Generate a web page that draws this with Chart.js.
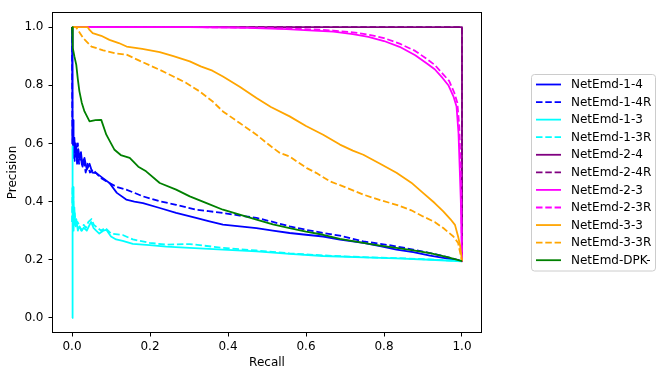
<!DOCTYPE html>
<html>
<head>
<meta charset="utf-8">
<script src="https://cdn.jsdelivr.net/npm/chart.js@4/dist/chart.umd.min.js"></script>
<style>
html,body{margin:0;padding:0;background:#fff;}
canvas{display:block;}
</style>
</head>
<body>
<canvas id="c" width="665" height="378"></canvas>
<script>
// ---- data (recall, precision) ----
const seriesNames = ["NetEmd-1-4","NetEmd-1-4R","NetEmd-1-3","NetEmd-1-3R","NetEmd-2-4","NetEmd-2-4R","NetEmd-2-3","NetEmd-2-3R","NetEmd-3-3","NetEmd-3-3R","NetEmd-DPK-"];
const seriesColors = ["#0000ff","#0000ff","#00ffff","#00ffff","#800080","#800080","#ff00ff","#ff00ff","#ffa500","#ffa500","#008000"];
const seriesDashed = [false,true,false,true,false,true,false,true,false,true,false];
const xTicks = [0.0,0.2,0.4,0.6,0.8,1.0];
const yTicks = [0.0,0.2,0.4,0.6,0.8,1.0];

const r14 = [0,0.001,0.002,0.003,0.004,0.006,0.008,0.01,0.013,0.016,0.019,0.023,0.027,0.032,0.038,0.045,0.052,0.062,0.075,0.096,0.115,0.139,0.16,0.182,0.225,0.267,0.318,0.35,0.387,0.43,0.473,0.515,0.558,0.6,0.644,0.687,0.747,0.79,0.832,0.875,0.918,0.96,1.0];
const p14 = [1.0,0.72,0.6,0.68,0.55,0.62,0.57,0.6,0.53,0.58,0.55,0.57,0.52,0.55,0.51,0.53,0.5,0.498,0.485,0.464,0.43,0.407,0.4,0.395,0.378,0.361,0.344,0.333,0.321,0.315,0.309,0.3,0.292,0.286,0.28,0.269,0.258,0.247,0.235,0.226,0.214,0.205,0.195];

const r14R = [0,0.001,0.002,0.003,0.005,0.007,0.009,0.012,0.015,0.018,0.022,0.026,0.03,0.035,0.04,0.046,0.054,0.062,0.075,0.096,0.115,0.139,0.16,0.182,0.225,0.267,0.318,0.35,0.387,0.43,0.473,0.515,0.558,0.6,0.644,0.687,0.747,0.79,0.832,0.875,0.918,0.96,1.0];
const p14R = [1.0,0.6,0.66,0.56,0.6,0.54,0.58,0.55,0.6,0.53,0.56,0.52,0.55,0.5,0.53,0.5,0.51,0.498,0.48,0.464,0.45,0.441,0.43,0.418,0.401,0.389,0.372,0.367,0.361,0.352,0.344,0.33,0.315,0.303,0.292,0.283,0.263,0.255,0.246,0.235,0.223,0.21,0.195];

const r13 = [0,0.001,0.002,0.003,0.004,0.006,0.008,0.011,0.015,0.019,0.025,0.03,0.038,0.045,0.049,0.055,0.062,0.07,0.08,0.088,0.1,0.113,0.13,0.156,0.199,0.242,0.302,0.387,0.473,0.558,0.644,0.747,0.832,0.918,1.0];
const p13 = [0,0.59,0.35,0.45,0.3,0.38,0.32,0.34,0.3,0.315,0.3,0.31,0.3,0.32,0.33,0.31,0.3,0.29,0.3,0.303,0.28,0.27,0.265,0.255,0.25,0.245,0.241,0.235,0.229,0.22,0.213,0.208,0.205,0.2,0.195];

const r13R = [0,0.001,0.002,0.003,0.005,0.007,0.01,0.014,0.018,0.024,0.03,0.036,0.042,0.05,0.056,0.065,0.075,0.085,0.1,0.13,0.156,0.199,0.242,0.302,0.387,0.473,0.558,0.644,0.747,0.832,0.918,1.0];
const p13R = [0.33,0.45,0.36,0.42,0.33,0.36,0.31,0.33,0.32,0.3,0.32,0.31,0.33,0.34,0.32,0.31,0.3,0.31,0.29,0.285,0.27,0.258,0.252,0.254,0.241,0.232,0.222,0.215,0.209,0.206,0.201,0.195];

const r24 = [0,1.0,1.0];
const p24 = [1.0,1.0,0.195];
const r24R = [0,1.0,1.0];
const p24R = [1.0,1.0,0.195];

const r23 = [0,0.3,0.45,0.55,0.62,0.67,0.72,0.76,0.8,0.84,0.88,0.91,0.93,0.95,0.965,0.978,0.986,0.991,0.994,0.997,1.0];
const p23 = [1.0,1.0,0.997,0.993,0.988,0.984,0.976,0.966,0.952,0.932,0.903,0.875,0.855,0.825,0.8,0.762,0.727,0.636,0.52,0.4,0.195];
const r23R = [0,0.3,0.45,0.55,0.62,0.67,0.72,0.76,0.8,0.84,0.88,0.91,0.93,0.95,0.967,0.98,0.988,0.993,0.996,0.998,1.0];
const p23R = [1.0,1.0,0.998,0.995,0.992,0.988,0.982,0.974,0.962,0.943,0.918,0.89,0.87,0.84,0.815,0.775,0.74,0.66,0.54,0.42,0.195];

const r33 = [0,0.04,0.045,0.053,0.075,0.096,0.12,0.14,0.18,0.225,0.26,0.302,0.33,0.36,0.387,0.43,0.473,0.51,0.558,0.6,0.644,0.687,0.72,0.747,0.79,0.832,0.87,0.9,0.93,0.952,0.97,0.982,0.99,0.995,1.0];
const p33 = [1.0,1.0,0.99,0.979,0.97,0.956,0.945,0.933,0.925,0.914,0.9,0.882,0.865,0.85,0.83,0.795,0.756,0.725,0.693,0.66,0.63,0.596,0.575,0.561,0.53,0.499,0.465,0.43,0.395,0.366,0.34,0.32,0.28,0.25,0.195];

const r33R = [0,0.01,0.015,0.03,0.05,0.08,0.11,0.14,0.18,0.225,0.26,0.293,0.327,0.36,0.387,0.43,0.473,0.51,0.533,0.558,0.602,0.627,0.662,0.7,0.747,0.79,0.832,0.87,0.9,0.93,0.952,0.978,0.99,1.0];
const p33R = [1.0,1.0,0.99,0.96,0.933,0.92,0.91,0.905,0.88,0.853,0.83,0.808,0.779,0.745,0.71,0.67,0.63,0.59,0.567,0.555,0.515,0.498,0.469,0.45,0.424,0.405,0.389,0.37,0.349,0.33,0.309,0.28,0.258,0.195];

const rDPK = [0,0.002,0.006,0.011,0.015,0.019,0.025,0.032,0.045,0.06,0.075,0.088,0.1,0.109,0.125,0.148,0.17,0.19,0.225,0.267,0.302,0.345,0.387,0.43,0.473,0.515,0.558,0.6,0.644,0.687,0.747,0.79,0.832,0.875,0.918,0.96,1.0];
const pDPK = [1.0,0.928,0.9,0.87,0.82,0.779,0.74,0.71,0.676,0.68,0.681,0.63,0.6,0.578,0.56,0.55,0.52,0.504,0.464,0.441,0.418,0.395,0.372,0.355,0.338,0.322,0.309,0.297,0.286,0.272,0.258,0.249,0.241,0.232,0.223,0.21,0.195];

const seriesRecall = [r14,r14R,r13,r13R,r24,r24R,r23,r23R,r33,r33R,rDPK];
const seriesPrecision = [p14,p14R,p13,p13R,p24,p24R,p23,p23R,p33,p33R,pDPK];

// ---- build chart ----
const FONT = "'DejaVu Sans', sans-serif";
const N = seriesNames.length;
const datasets = seriesNames.map((name, i) => ({
  label: name,
  data: seriesRecall[i].map((x, k) => ({x: x, y: seriesPrecision[i][k]})),
  borderColor: seriesColors[i],
  backgroundColor: seriesColors[i],
  borderWidth: 1.8,
  borderDash: seriesDashed[i] ? [6.5, 2.8] : [],
  borderJoinStyle: 'round',
  pointRadius: 0,
  tension: 0,
  fill: false,
  order: N - 1 - i
}));

const framePlugin = {
  id: 'frame',
  afterDraw(chart) {
    const ctx = chart.ctx;
    const a = chart.chartArea;
    ctx.save();
    ctx.strokeStyle = '#000';
    ctx.lineWidth = 1;
    ctx.strokeRect(a.left, a.top, a.right - a.left, a.bottom - a.top);
    // legend
    const bx = 531.5, by = 74.5, bw = 124, bh = 196.5, rad = 3;
    ctx.beginPath();
    ctx.moveTo(bx + rad, by);
    ctx.lineTo(bx + bw - rad, by);
    ctx.arcTo(bx + bw, by, bx + bw, by + rad, rad);
    ctx.lineTo(bx + bw, by + bh - rad);
    ctx.arcTo(bx + bw, by + bh, bx + bw - rad, by + bh, rad);
    ctx.lineTo(bx + rad, by + bh);
    ctx.arcTo(bx, by + bh, bx, by + bh - rad, rad);
    ctx.lineTo(bx, by + rad);
    ctx.arcTo(bx, by, bx + rad, by, rad);
    ctx.closePath();
    ctx.fillStyle = 'rgba(255,255,255,0.8)';
    ctx.fill();
    ctx.strokeStyle = '#cccccc';
    ctx.lineWidth = 1;
    ctx.stroke();
    ctx.font = '12px ' + FONT;
    ctx.textBaseline = 'middle';
    ctx.textAlign = 'left';
    for (let i = 0; i < N; i++) {
      const y = 84.5 + i * 17.57;
      ctx.beginPath();
      ctx.setLineDash(seriesDashed[i] ? [6.5, 2.8] : []);
      ctx.strokeStyle = seriesColors[i];
      ctx.lineWidth = 1.8;
      ctx.moveTo(536, y);
      ctx.lineTo(561, y);
      ctx.stroke();
      ctx.setLineDash([]);
      ctx.fillStyle = '#000';
      ctx.fillText(seriesNames[i], 571, y + 0.5);
    }
    ctx.restore();
  }
};

new Chart(document.getElementById('c'), {
  type: 'line',
  data: { datasets: datasets },
  plugins: [framePlugin],
  options: {
    responsive: false,
    animation: false,
    events: [],
    layout: { padding: { top: 12.5, right: 183.5, left: 0, bottom: 0 } },
    plugins: { legend: { display: false }, tooltip: { enabled: false } },
    scales: {
      x: {
        type: 'linear',
        min: -0.05, max: 1.05,
        afterFit(scale) { scale.height = 45.5; },
        afterBuildTicks(scale) { scale.ticks = xTicks.map(v => ({value: v})); },
        grid: { display: true, drawOnChartArea: false, drawTicks: true, tickLength: 4, color: '#000', lineWidth: 1 },
        border: { display: false },
        ticks: { color: '#000', font: { family: FONT, size: 12 }, padding: 3, maxRotation: 0, callback: v => Number(v).toFixed(1) },
        title: { display: true, text: 'Recall', color: '#000', font: { family: FONT, size: 12 }, padding: { top: 0, bottom: 8 } }
      },
      y: {
        type: 'linear',
        min: -0.05, max: 1.05,
        afterFit(scale) { scale.width = 52.5; },
        afterBuildTicks(scale) { scale.ticks = yTicks.map(v => ({value: v})); },
        grid: { display: true, drawOnChartArea: false, drawTicks: true, tickLength: 4, color: '#000', lineWidth: 1 },
        border: { display: false },
        ticks: { color: '#000', font: { family: FONT, size: 12 }, padding: 5, callback: v => Number(v).toFixed(1) },
        title: { display: true, text: 'Precision', color: '#000', font: { family: FONT, size: 12 }, padding: { top: 6, bottom: 0 } }
      }
    }
  }
});
</script>
</body>
</html>
